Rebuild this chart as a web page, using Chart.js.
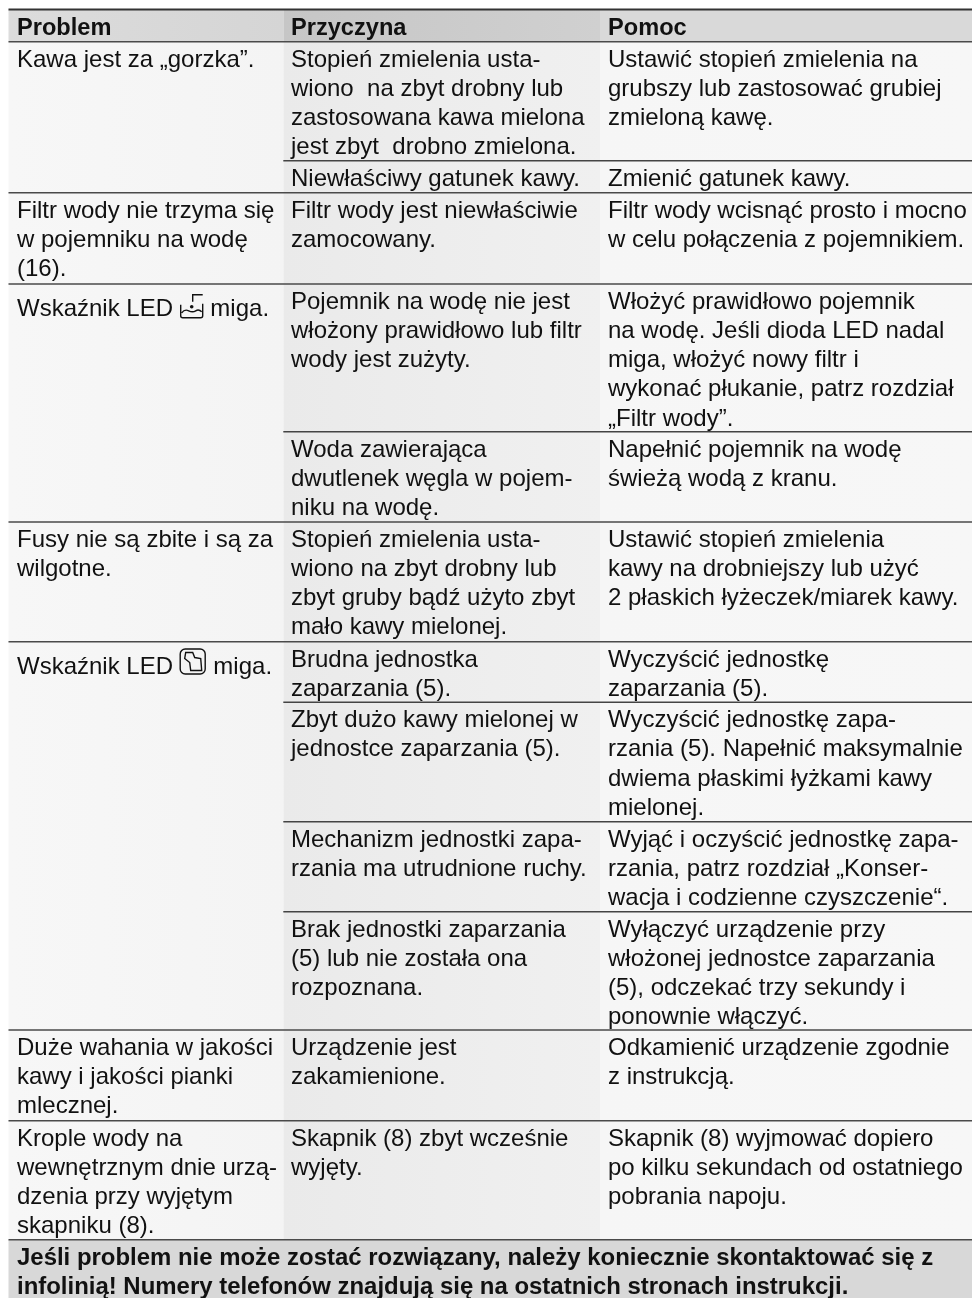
<!DOCTYPE HTML>
<html>
<head>
    <title>Problem</title>
    <meta charset="utf-8" />
    <script src="https://cdn.jsdelivr.net/npm/chart.js"></script>
    <style>
        html, body { margin: 0; padding: 0; background: #fff; }
        canvas { display: block; }
    </style>
</head>
<body>
<canvas id="tableChart" width="972" height="1298"></canvas>
<script>
    const headers = ['Problem', 'Przyczyna', 'Pomoc'];

    const problemRows = [
        ['Kawa jest za „gorzka”.'],
        ['Filtr wody nie trzyma się', 'w pojemniku na wodę', '(16).'],
        ['Wskaźnik LED {water} miga.'],
        ['Fusy nie są zbite i są za', 'wilgotne.'],
        ['Wskaźnik LED {brew} miga.'],
        ['Duże wahania w jakości', 'kawy i jakości pianki', 'mlecznej.'],
        ['Krople wody na', 'wewnętrznym dnie urzą-', 'dzenia przy wyjętym', 'skapniku (8).']
    ];

    const causeRows = [
        ['Stopień zmielenia usta-', 'wiono  na zbyt drobny lub', 'zastosowana kawa mielona', 'jest zbyt  drobno zmielona.'],
        ['Niewłaściwy gatunek kawy.'],
        ['Filtr wody jest niewłaściwie', 'zamocowany.'],
        ['Pojemnik na wodę nie jest', 'włożony prawidłowo lub filtr', 'wody jest zużyty.'],
        ['Woda zawierająca', 'dwutlenek węgla w pojem-', 'niku na wodę.'],
        ['Stopień zmielenia usta-', 'wiono na zbyt drobny lub', 'zbyt gruby bądź użyto zbyt', 'mało kawy mielonej.'],
        ['Brudna jednostka', 'zaparzania (5).'],
        ['Zbyt dużo kawy mielonej w', 'jednostce zaparzania (5).'],
        ['Mechanizm jednostki zapa-', 'rzania ma utrudnione ruchy.'],
        ['Brak jednostki zaparzania', '(5) lub nie została ona', 'rozpoznana.'],
        ['Urządzenie jest', 'zakamienione.'],
        ['Skapnik (8) zbyt wcześnie', 'wyjęty.']
    ];

    const helpRows = [
        ['Ustawić stopień zmielenia na', 'grubszy lub zastosować grubiej', 'zmieloną kawę.'],
        ['Zmienić gatunek kawy.'],
        ['Filtr wody wcisnąć prosto i mocno', 'w celu połączenia z pojemnikiem.'],
        ['Włożyć prawidłowo pojemnik', 'na wodę. Jeśli dioda LED nadal', 'miga, włożyć nowy filtr i', 'wykonać płukanie, patrz rozdział', '„Filtr wody”.'],
        ['Napełnić pojemnik na wodę', 'świeżą wodą z kranu.'],
        ['Ustawić stopień zmielenia', 'kawy na drobniejszy lub użyć', '2 płaskich łyżeczek/miarek kawy.'],
        ['Wyczyścić jednostkę', 'zaparzania (5).'],
        ['Wyczyścić jednostkę zapa-', 'rzania (5). Napełnić maksymalnie', 'dwiema płaskimi łyżkami kawy', 'mielonej.'],
        ['Wyjąć i oczyścić jednostkę zapa-', 'rzania, patrz rozdział „Konser-', 'wacja i codzienne czyszczenie“.'],
        ['Wyłączyć urządzenie przy', 'włożonej jednostce zaparzania', '(5), odczekać trzy sekundy i', 'ponownie włączyć.'],
        ['Odkamienić urządzenie zgodnie', 'z instrukcją.'],
        ['Skapnik (8) wyjmować dopiero', 'po kilku sekundach od ostatniego', 'pobrania napoju.']
    ];

    const footerLines = [
        'Jeśli problem nie może zostać rozwiązany, należy koniecznie skontaktować się z',
        'infolinią! Numery telefonów znajdują się na ostatnich stronach instrukcji.'
    ];

    // uklad tabeli, w pikselach strony
    const columnEdges = [8.5, 283.3, 600, 972];
    const textX = [17, 291, 608];
    const tableTop = 9.5;
    const headerBottom = 41.7;
    const problemTops = [41.7, 192.7, 284, 522, 641.7, 1030, 1120.7];
    const causeTops = [41.7, 160.7, 192.7, 284, 431.7, 522, 641.7, 702.3, 821.7, 911.7, 1030, 1120.7];
    const tableBottom = 1239.7;
    const pageBottom = 1298;
    const lineHeight = 29.2;
    const firstBaseline = 24.8;
    const iconRowShift = 7;
    const font = '24px "Liberation Sans", Arial, sans-serif';
    const headerFont = 'bold 23.6px "Liberation Sans", Arial, sans-serif';
    const footerFont = 'bold 23.95px "Liberation Sans", Arial, sans-serif';

    // poziomy gradient tla komorki
    function cellFill(x0, x1, from, to) {
        return ctx => {
            const g = ctx.chart.ctx.createLinearGradient(x0, 0, x1, 0);
            g.addColorStop(0, from);
            g.addColorStop(1, to);
            return g;
        };
    }

    function cellBar(x0, x1, y0, y1, color) {
        return {
            type: 'bar',
            data: [{ y: (y0 + y1) / 2, x: [x0, x1] }],
            barThickness: y1 - y0,
            backgroundColor: color,
            borderWidth: 0,
            inflateAmount: 0,
            grouped: false,
            order: 3
        };
    }

    function ruleLine(x0, x1, y, color, width) {
        return {
            type: 'line',
            data: [{ x: x0, y: y }, { x: x1, y: y }],
            borderColor: color,
            borderWidth: width,
            pointRadius: 0,
            indexAxis: 'x',
            order: 1
        };
    }

    const datasets = [];
    const headerColors = [['#dcdcdc', '#d5d5d5'], ['#c6c6c6', '#d0d0d0'], ['#d9d9d9', '#d9d9d9']];
    const bodyColors = [['#f7f7f7', '#f4f4f4'], ['#eaeaea', '#f0f0f0'], ['#f6f6f6', '#f7f7f7']];
    for (let c = 0; c < 3; c++) {
        const x0 = columnEdges[c];
        const x1 = columnEdges[c + 1];
        datasets.push(cellBar(x0, x1, tableTop, headerBottom, cellFill(x0, x1, headerColors[c][0], headerColors[c][1])));
        datasets.push(cellBar(x0, x1, headerBottom, tableBottom, cellFill(x0, x1, bodyColors[c][0], bodyColors[c][1])));
    }
    datasets.push(cellBar(columnEdges[0], columnEdges[3], tableBottom, pageBottom, '#d8d8d8'));

    datasets.push(ruleLine(columnEdges[0], columnEdges[3], tableTop, '#333333', 2));
    problemTops.forEach(y => datasets.push(ruleLine(columnEdges[0], columnEdges[3], y, '#4a4a4a', 1.6)));
    causeTops.filter(y => !problemTops.includes(y)).forEach(y => {
        datasets.push(ruleLine(columnEdges[1], columnEdges[3], y, '#444444', 1.6));
    });
    datasets.push(ruleLine(columnEdges[0], columnEdges[3], tableBottom, '#4a4a4a', 1.6));

    function drawWaterIcon(ctx, x, y) {
        ctx.beginPath();
        ctx.moveTo(x + 23, y + 1);
        ctx.lineTo(x + 13, y + 1);
        ctx.lineTo(x + 13, y + 8);
        ctx.moveTo(x + 1, y + 11);
        ctx.lineTo(x + 1, y + 22);
        ctx.quadraticCurveTo(x + 1, y + 24, x + 3, y + 24);
        ctx.lineTo(x + 21, y + 24);
        ctx.quadraticCurveTo(x + 23, y + 24, x + 23, y + 22);
        ctx.lineTo(x + 23, y + 10);
        ctx.moveTo(x + 2, y + 19);
        ctx.quadraticCurveTo(x + 5, y + 15, x + 9, y + 17);
        ctx.quadraticCurveTo(x + 13, y + 19, x + 16, y + 17);
        ctx.quadraticCurveTo(x + 19, y + 15, x + 22, y + 18);
        ctx.stroke();
        ctx.beginPath();
        ctx.arc(x + 12, y + 13, 1.8, 0, Math.PI * 2);
        ctx.fill();
    }

    function drawBrewIcon(ctx, x, y) {
        ctx.beginPath();
        ctx.roundRect(x + 0.5, y + 0.5, 25, 25, 5);
        ctx.moveTo(x + 6, y + 4);
        ctx.lineTo(x + 13, y + 4);
        ctx.lineTo(x + 15, y + 9);
        ctx.lineTo(x + 21, y + 10);
        ctx.lineTo(x + 22, y + 22);
        ctx.lineTo(x + 11, y + 22);
        ctx.lineTo(x + 10, y + 14);
        ctx.lineTo(x + 5, y + 10);
        ctx.closePath();
        ctx.stroke();
    }

    // rysuje jedna linie tekstu, {water} i {brew} to ikony w tekscie
    function drawLine(ctx, text, x, y) {
        const m = text.match(/^(.*)\{(\w+)\}(.*)$/);
        if (!m) {
            ctx.fillText(text, x, y);
            return;
        }
        y += iconRowShift;
        ctx.fillText(m[1], x, y);
        const iconX = x + ctx.measureText(m[1]).width;
        if (m[2] === 'water') {
            drawWaterIcon(ctx, iconX, y - 22);
            ctx.fillText(m[3], iconX + 24, y);
        } else {
            drawBrewIcon(ctx, iconX, y - 25);
            ctx.fillText(m[3], iconX + 27, y);
        }
    }

    const tableText = {
        id: 'tableText',
        afterDatasetsDraw(chart) {
            const ctx = chart.ctx;
            const sx = chart.scales.x;
            const sy = chart.scales.y;
            ctx.save();
            ctx.fillStyle = '#111111';
            ctx.strokeStyle = '#111111';
            ctx.lineWidth = 1.4;
            ctx.textBaseline = 'alphabetic';

            ctx.font = headerFont;
            headers.forEach((h, c) => ctx.fillText(h, sx.getPixelForValue(textX[c]), sy.getPixelForValue(34.5)));

            ctx.font = footerFont;
            footerLines.forEach((t, i) => {
                ctx.fillText(t, sx.getPixelForValue(textX[0]), sy.getPixelForValue(1264.5 + i * 29));
            });

            ctx.font = font;
            const drawColumn = (rows, tops, c) => {
                rows.forEach((lines, r) => {
                    lines.forEach((t, i) => {
                        const y = sy.getPixelForValue(tops[r] + firstBaseline + i * lineHeight);
                        drawLine(ctx, t, sx.getPixelForValue(textX[c]), y);
                    });
                });
            };
            drawColumn(problemRows, problemTops, 0);
            drawColumn(causeRows, causeTops, 1);
            drawColumn(helpRows, causeTops, 2);
            ctx.restore();
        }
    };

    new Chart(document.getElementById('tableChart'), {
        data: { datasets: datasets },
        plugins: [tableText],
        options: {
            indexAxis: 'y',
            responsive: false,
            animation: false,
            layout: { padding: 0 },
            plugins: { legend: { display: false }, tooltip: { enabled: false } },
            scales: {
                x: { type: 'linear', min: 0, max: 972, offset: false, display: false },
                y: { type: 'linear', min: 0, max: 1298, reverse: true, offset: false, display: false }
            }
        }
    });
</script>
</body>
</html>
